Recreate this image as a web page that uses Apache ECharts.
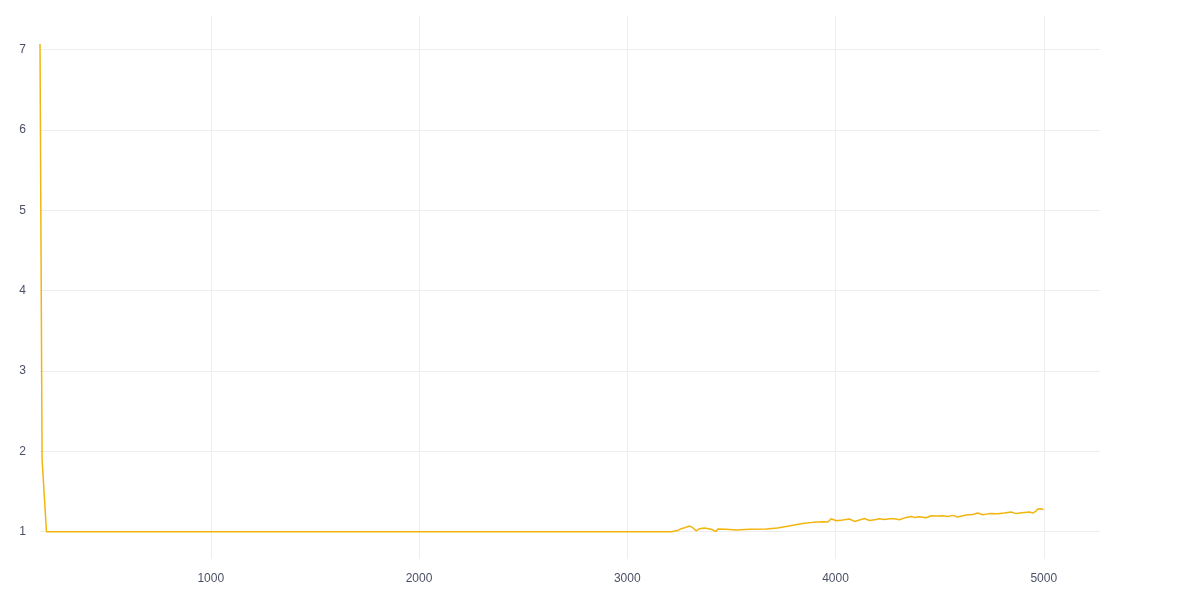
<!DOCTYPE html>
<html>
<head>
<meta charset="utf-8">
<script src="https://cdn.jsdelivr.net/npm/echarts@6/dist/echarts.min.js"></script>
<style>
html,body{margin:0;padding:0;background:#fff;}
#chart{width:1200px;height:600px;}
</style>
</head>
<body>
<div id="chart"></div>
<script>
// x positions (steps)
const xValues = [
  180, 190, 211, 1000, 2000, 3000, 3211, 3219, 3242, 3259, 3275, 3299, 3315, 3331, 3347, 3371,
  3403, 3427, 3434, 3475, 3523, 3587, 3667, 3721, 3763, 3843, 3891, 3939, 3963, 3979,
  4003, 4035, 4067, 4091, 4115, 4139, 4163, 4195, 4211, 4235, 4259, 4283, 4307, 4339,
  4363, 4379, 4403, 4435, 4459, 4483, 4515, 4539, 4563, 4587, 4627, 4659, 4683, 4707,
  4739, 4779, 4811, 4843, 4867, 4883, 4907, 4915, 4931, 4947, 4963, 4971, 4987, 4995, 5000
];
// y values
const yValues = [
  7.07, 1.9, 1.0, 1.0, 1.0, 1.0, 1.0, 1.0, 1.016, 1.037, 1.05, 1.07, 1.05, 1.01, 1.037, 1.046,
  1.03, 1.0, 1.033, 1.03, 1.022, 1.029, 1.033, 1.046, 1.066, 1.103, 1.116, 1.124, 1.12, 1.161,
  1.137, 1.145, 1.158, 1.128, 1.145, 1.165, 1.14, 1.153, 1.161, 1.153, 1.162, 1.16, 1.149, 1.178,
  1.19, 1.178, 1.186, 1.174, 1.199, 1.195, 1.199, 1.19, 1.203, 1.182, 1.207, 1.215, 1.232, 1.21,
  1.225, 1.222, 1.232, 1.245, 1.225, 1.232, 1.24, 1.225, 1.245, 1.232, 1.257, 1.282, 1.285, 1.273, 1.275
];
const xAxisMin = 180, xAxisMax = 5270;
const yAxisMin = 0.66, yAxisMax = 7.42;

const seriesData = xValues.map((x, i) => [x, yValues[i]]);

const chart = echarts.init(document.getElementById('chart'), null, {renderer: 'canvas'});
const labelColor = '#4b5066';
const gridColor = '#eeeeee';
const plainNum = v => String(Math.round(v * 1000) / 1000);
chart.setOption({
  animation: false,
  backgroundColor: '#ffffff',
  grid: {left: 40, right: 100, top: 16, bottom: 41, containLabel: false},
  xAxis: {
    type: 'value',
    min: xAxisMin,
    max: xAxisMax,
    axisLine: {show: false},
    axisTick: {show: false},
    axisLabel: {
      color: labelColor, fontSize: 12, margin: 14,
      fontFamily: 'Liberation Sans, Arial, sans-serif',
      showMinLabel: false, showMaxLabel: false,
      formatter: plainNum
    },
    splitLine: {show: true, showMinLine: false, showMaxLine: false, lineStyle: {color: gridColor, width: 1}}
  },
  yAxis: {
    type: 'value',
    min: yAxisMin,
    max: yAxisMax,
    axisLine: {show: false},
    axisTick: {show: false},
    axisLabel: {
      color: labelColor, fontSize: 12, margin: 14,
      fontFamily: 'Liberation Sans, Arial, sans-serif',
      showMinLabel: false, showMaxLabel: false,
      formatter: plainNum
    },
    splitLine: {show: true, showMinLine: false, showMaxLine: false, lineStyle: {color: gridColor, width: 1}}
  },
  series: [{
    type: 'line',
    data: seriesData,
    showSymbol: false,
    symbol: 'none',
    lineStyle: {color: '#f2b50f', width: 1.5},
    itemStyle: {color: '#f2b50f'}
  }]
});
</script>
</body>
</html>
